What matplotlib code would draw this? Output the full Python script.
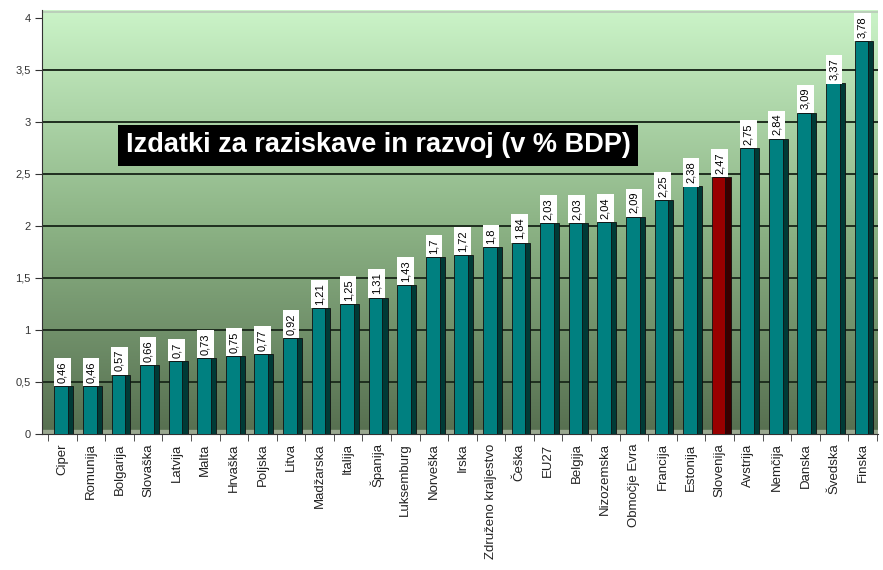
import numpy as np
import matplotlib
matplotlib.use("Agg")
import matplotlib.pyplot as plt
from matplotlib.colors import LinearSegmentedColormap

plt.rcParams['font.family'] = ['Liberation Sans', 'DejaVu Sans']

# data
countries = ["Ciper", "Romunija", "Bolgarija", "Slovaška", "Latvija", "Malta",
             "Hrvaška", "Poljska", "Litva", "Madžarska", "Italija", "Španija",
             "Luksemburg", "Norveška", "Irska", "Združeno kraljestvo", "Češka",
             "EU27", "Belgija", "Nizozemska", "Območje Evra", "Francija",
             "Estonija", "Slovenija", "Avstrija", "Nemčija", "Danska",
             "Švedska", "Finska"]
values = [0.46, 0.46, 0.57, 0.66, 0.7, 0.73, 0.75, 0.77, 0.92, 1.21, 1.25,
          1.31, 1.43, 1.7, 1.72, 1.8, 1.84, 2.03, 2.03, 2.04, 2.09, 2.25,
          2.38, 2.47, 2.75, 2.84, 3.09, 3.37, 3.78]
highlight = "Slovenija"
yticks = [0, 0.5, 1, 1.5, 2, 2.5, 3, 3.5, 4]

fig = plt.figure(figsize=(8.83, 5.70), dpi=100)
ax = fig.add_axes([0.048, 0.239, 0.946, 0.744])

x = np.arange(len(countries))
ax.set_xlim(-0.7, 28.53)
ax.set_ylim(0, 4.08)

# gradient back wall
cmap = LinearSegmentedColormap.from_list("wall", ["#566f50", "#8db486", "#cbf4c8"])
grad = np.linspace(0, 1, 256).reshape(-1, 1)
ax.imshow(grad, extent=[-0.7, 28.53, 0, 4.08], origin="lower", aspect="auto",
          cmap=cmap, zorder=0)

for t in yticks[1:-1]:
    ax.axhline(t, color="#1f2e1f", lw=1.4, zorder=1)
ax.axhline(4.06, color="#b8c8b8", lw=1.2, zorder=1)
# light floor strip
ax.axhspan(0, 0.04, color="#9aa890", zorder=1)

face = ["#990000" if c == highlight else "#008080" for c in countries]
side = ["#3a0000" if c == highlight else "#003a36" for c in countries]

# dark side of the bar, then the front face
ax.bar(x + 0.07, values, width=0.62, color=side, edgecolor="#101010",
       linewidth=0.6, zorder=2)
ax.bar(x - 0.04, values, width=0.48, color=face, edgecolor="#101010",
       linewidth=0.6, zorder=3)

for xi, v in zip(x, values):
    lbl = f"{v:g}".replace(".", ",")
    ax.text(xi, v + 0.03, lbl, rotation=90, ha="center", va="bottom",
            fontsize=8, color="black", zorder=5,
            bbox=dict(boxstyle="square,pad=0.3", fc="white", ec="none"))

ax.text(0.1, 0.68, "Izdatki za raziskave in razvoj (v % BDP)",
        transform=ax.transAxes, color="white", fontsize=19.5, fontweight="bold",
        ha="left", va="center", zorder=6,
        bbox=dict(boxstyle="square,pad=0.28", fc="black", ec="none"))

ax.set_yticks(yticks)
ax.set_yticklabels([f"{t:g}".replace(".", ",") for t in yticks],
                   fontsize=8, color="#333333")
ax.set_xticks(x)
ax.set_xticklabels(countries, rotation=90, fontsize=9.5, color="#222222")
ax.set_xticks(np.arange(-0.5, len(countries)), minor=True)
ax.tick_params(axis="x", which="major", length=0, pad=7)
ax.tick_params(axis="x", which="minor", length=5, direction="out", color="#333333")
ax.tick_params(axis="y", length=5, direction="out", color="#333333")

for s in ["top", "right"]:
    ax.spines[s].set_visible(False)
ax.spines["left"].set_color("#333333")
ax.spines["bottom"].set_color("#333333")

fig.savefig("out.png", dpi=100)
